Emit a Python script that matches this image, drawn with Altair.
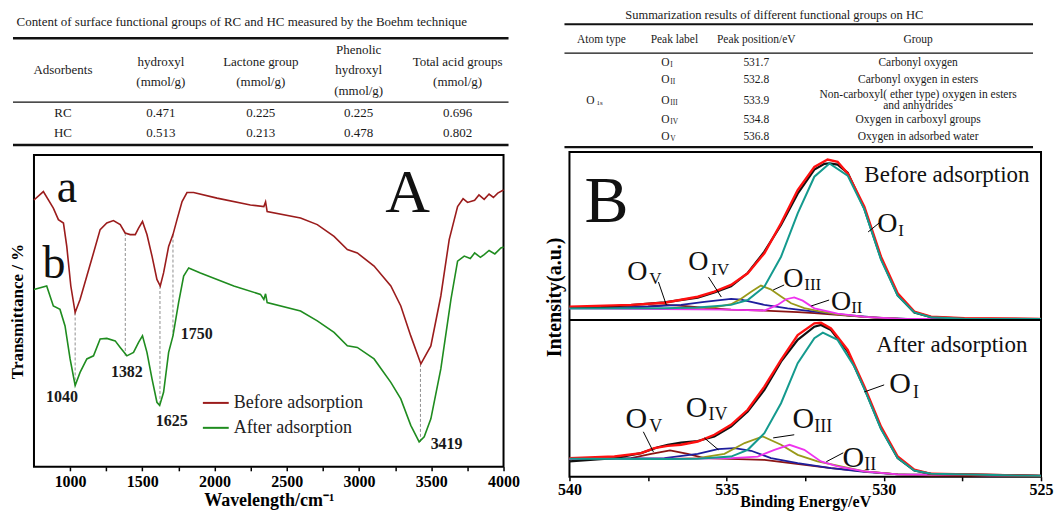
import altair as alt
import pandas as pd

SERIF = "Liberation Serif"

# ====================== DATA ======================
# --- Table 1 (Boehm titration) ---
boehm_title = "Content of surface functional groups of RC and HC measured by the Boehm technique"
boehm_headers = [["Adsorbents"], ["hydroxyl", "(mmol/g)"], ["Lactone group", "(mmol/g)"],
                 ["Phenolic", "hydroxyl", "(mmol/g)"], ["Total acid groups", "(mmol/g)"]]
boehm_samples = ["RC", "HC"]
boehm_hydroxyl = ["0.471", "0.513"]
boehm_lactone = ["0.225", "0.213"]
boehm_phenolic = ["0.225", "0.478"]
boehm_total = ["0.696", "0.802"]

# --- Table 2 (XPS O1s peak assignment) ---
xps_title = "Summarization results of different functional groups on HC"
xps_headers = ["Atom type", "Peak label", "Peak position/eV", "Group"]
xps_atom, xps_atom_sub = "O", "1s"
xps_peak_sub = ["I", "II", "III", "IV", "V"]
xps_positions = ["531.7", "532.8", "533.9", "534.8", "536.8"]
xps_groups = [["Carbonyl oxygen"], ["Carbonyl oxygen in esters"],
              ["Non-carboxyl( ether type) oxygen in esters", "and anhydrides"],
              ["Oxygen in carboxyl groups"], ["Oxygen in adsorbed water"]]

# --- FTIR spectra (panel A), wavenumber / relative transmittance ---
ftir_series = ["Before adsorption", "After adsorption"]
ftir_wn_before = [750, 815, 884, 919, 954, 977, 1005, 1035, 1069, 1116, 1162, 1208, 1254, 1300, 1347,
                  1381, 1416, 1451, 1474, 1501, 1532, 1567, 1601, 1624, 1647, 1682, 1712, 1740, 1775,
                  1809, 1855, 2017, 2248, 2341, 2353, 2364, 2595, 2711, 2827, 2919, 2988, 3104, 3220,
                  3289, 3358, 3428, 3497, 3566, 3624, 3682, 3720, 3751, 3800, 3830, 3866, 3900, 3930,
                  3960, 4000]
ftir_T_before = [85.6, 88.3, 83.0, 79.3, 78.2, 70.7, 58.0, 49.5, 53.7, 61.2, 68.6, 76.1, 78.2, 79.0, 77.7,
                 75.0, 74.5, 74.5, 76.6, 78.7, 74.5, 67.6, 60.1, 58.0, 62.2, 70.7, 74.5, 79.3, 85.1,
                 88.0, 88.0, 86.2, 84.0, 83.5, 85.0, 81.9, 79.8, 77.7, 73.9, 69.7, 68.6, 64.4, 58.0,
                 51.6, 42.0, 33.0, 38.8, 54.8, 72.9, 83.5, 86.0, 84.8, 85.5, 87.2, 85.8, 87.5, 86.4,
                 87.8, 88.8]
ftir_wn_after = [750, 838, 884, 930, 965, 1000, 1035, 1069, 1116, 1162, 1208, 1254, 1312, 1347, 1393,
                 1439, 1474, 1501, 1532, 1567, 1601, 1620, 1647, 1682, 1712, 1751, 1786, 1821, 1902,
                 2133, 2318, 2341, 2353, 2364, 2595, 2711, 2827, 2919, 2988, 3104, 3220, 3289, 3358,
                 3416, 3451, 3497, 3566, 3636, 3682, 3728, 3770, 3800, 3840, 3866, 3900, 3940, 3982, 4000]
ftir_T_after = [56.9, 58.0, 51.6, 50.5, 45.2, 34.6, 26.1, 30.3, 34.6, 35.6, 41.0, 41.2, 40.4, 38.3, 35.6,
                36.7, 39.9, 42.0, 36.7, 28.2, 20.7, 19.7, 23.9, 36.7, 42.0, 52.7, 61.2, 63.8, 62.2,
                58.0, 55.3, 53.7, 55.5, 52.7, 50.0, 46.8, 43.1, 38.8, 38.3, 34.6, 27.1, 21.8, 13.3,
                8.0, 9.6, 15.4, 31.4, 53.7, 66.0, 67.6, 66.8, 68.6, 67.2, 68.1, 69.4, 68.3, 70.2, 70.5]
ftir_peak_labels = ["1040", "1382", "1625", "1750", "3419"]
ftir_peak_wn = [1035, 1382, 1622, 1712, 3425]
ftir_peak_T_before = [49.5, 75.0, 58.0, 74.5, 33.0]
ftir_peak_T_after = [26.1, 35.6, 19.7, 42.0, 8.0]

# --- XPS O1s spectra (panel B), binding energy / intensity (a.u.) ---
xps_components = ["O_V", "O_IV", "O_III", "O_II", "measured", "fit", "O_I"]
up_measured = [(540.00, 7.8), (539.00, 8.2), (538.04, 9.4), (536.98, 11.2), (535.92, 14.2), (535.39, 17.5),
               (534.86, 21.5), (534.33, 29.9), (533.80, 43.5), (533.27, 60.5), (532.74, 80.5),
               (532.21, 95.8), (531.89, 99.5), (531.73, 99.8), (531.47, 99.0), (531.15, 93.8),
               (530.62, 71.0), (530.09, 39.2), (529.56, 15.8), (529.03, 4.8), (528.50, 1.8),
               (527.44, 0.9), (525.00, 0.5)]
up_fit = [(540.00, 8.5), (538.04, 9.6), (536.98, 11.0), (535.92, 14.8), (535.39, 18.0), (534.86, 22.3),
          (534.33, 29.7), (533.80, 42.5), (533.27, 61.6), (532.74, 82.8), (532.21, 97.6), (531.79, 102.3),
          (531.47, 100.8), (531.15, 93.4), (530.62, 72.2), (530.09, 40.3), (529.56, 17.0), (529.03, 5.3),
          (528.50, 2.1), (527.44, 1.1), (525.00, 0.6)]
up_O_I = [(540.00, 7.3), (536.98, 7.5), (535.92, 8.0), (534.86, 9.6), (534.33, 12.7), (533.80, 21.2),
          (533.27, 40.3), (532.74, 67.9), (532.21, 91.3), (531.73, 99.8), (531.15, 92.0), (530.62, 70.5),
          (530.09, 38.5), (529.56, 15.5), (529.03, 4.8), (528.50, 1.7), (527.44, 0.8), (525.00, 0.6)]
up_O_II = [(540.00, 7.4), (535.00, 6.6), (534.33, 6.3), (533.80, 6.0), (533.38, 9.6), (533.11, 13.2),
           (532.85, 14.4), (532.58, 12.3), (532.21, 7.4), (531.89, 5.9), (531.47, 4.0), (531.00, 2.9),
           (530.62, 1.9), (529.56, 0.8), (525.00, 0.4)]
up_O_III = [(536.45, 7.2), (535.39, 8.0), (534.86, 10.0), (534.54, 13.5), (534.22, 18.0), (533.91, 21.9),
            (533.60, 19.5), (533.27, 15.0), (532.95, 10.6), (532.53, 7.5), (532.00, 5.3), (531.47, 3.5),
            (530.62, 1.9), (529.56, 0.8), (525.00, 0.4)]
up_O_IV = [(540.00, 7.5), (538.57, 7.7), (537.51, 8.5), (536.45, 9.6), (535.71, 11.5), (535.07, 13.0),
           (534.86, 13.4), (534.54, 13.0), (534.22, 11.5), (533.80, 9.6), (533.06, 7.4), (532.21, 5.3),
           (531.15, 3.0), (530.09, 1.3), (529.03, 0.5), (525.00, 0.4)]
up_O_V = [(540.00, 7.6), (538.50, 7.6), (537.50, 8.6), (536.90, 9.6), (536.30, 8.8), (535.50, 7.3),
          (534.86, 6.6), (533.80, 6.0), (532.74, 5.0), (532.21, 4.3), (531.68, 3.5), (531.15, 2.7),
          (530.62, 1.9), (530.09, 1.2), (529.56, 0.8), (529.03, 0.5), (527.44, 0.4), (525.00, 0.4)]

low_measured = [(540.00, 9.8), (538.57, 11.9), (537.72, 15.1), (537.19, 18.8), (536.87, 20.4), (536.45, 21.8),
                (535.92, 22.8), (535.39, 25.7), (534.86, 32.0), (534.33, 41.6), (533.80, 55.4),
                (533.27, 73.4), (532.74, 87.3), (532.21, 95.7), (532.00, 96.8), (531.68, 93.6),
                (531.15, 79.8), (530.62, 56.5), (530.09, 31.0), (529.56, 11.9), (529.03, 4.0),
                (528.50, 1.9), (525.00, 0.6)]
low_fit = [(540.00, 11.9), (538.57, 12.9), (537.72, 15.1), (537.30, 18.3), (536.87, 19.7), (536.45, 20.4),
           (535.92, 22.5), (535.39, 26.8), (534.86, 33.1), (534.33, 42.7), (533.80, 57.5), (533.27, 74.5),
           (532.74, 90.4), (532.21, 97.8), (532.00, 98.2), (531.68, 94.6), (531.15, 80.9), (530.62, 57.5),
           (530.09, 32.0), (529.56, 12.9), (529.03, 4.5), (528.50, 1.9), (525.00, 0.6)]
low_O_I = [(540.00, 11.5), (536.98, 11.3), (535.92, 11.5), (534.86, 12.9), (534.33, 17.2), (533.80, 27.8),
           (533.27, 46.9), (532.74, 72.4), (532.21, 88.3), (531.94, 91.9), (531.47, 87.3), (530.94, 70.3),
           (530.62, 56.0), (530.09, 30.5), (529.56, 11.9), (529.03, 4.0), (528.50, 1.9), (525.00, 0.6)]
low_O_II = [(540.00, 11.3), (536.00, 11.6), (534.86, 11.9), (534.01, 12.9), (533.48, 17.2), (533.00, 20.4),
            (532.53, 17.2), (532.00, 9.8), (531.47, 6.6), (530.62, 3.4), (529.56, 1.5), (525.00, 0.6)]
low_O_III = [(537.00, 11.3), (535.92, 11.9), (535.07, 14.6), (534.43, 21.5), (533.85, 25.7), (533.27, 20.4),
             (532.74, 14.0), (532.11, 9.8), (531.36, 6.6), (530.62, 3.4), (529.56, 1.5), (525.00, 0.6)]
low_O_IV = [(540.00, 11.3), (536.98, 11.9), (535.92, 14.6), (535.28, 17.6), (534.75, 18.3), (534.22, 16.6),
            (533.59, 11.9), (532.74, 8.7), (531.68, 5.5), (530.62, 3.2), (529.56, 1.5), (525.00, 0.6)]
low_O_V = [(540.00, 11.3), (538.04, 11.9), (537.40, 14.6), (536.80, 16.8), (536.24, 14.6), (535.71, 11.9),
           (533.80, 10.8), (531.68, 5.5), (530.62, 3.4), (529.56, 1.5), (528.50, 0.8), (525.00, 0.6)]

# peak label annotations: (numeral, O x, O y, subscript x, subscript y, leader x1, y1, x2, y2)
up_labels = [("V", 537.84, 25.5, 537.46, 22.9, 537.17, 24.2, 536.92, 9.6),
             ("IV", 535.90, 31.8, 535.49, 28.7, 535.58, 27.4, 535.17, 14.6),
             ("III", 532.88, 21.0, 532.53, 19.1, 533.17, 22.3, 533.52, 19.1),
             ("II", 531.36, 6.4, 531.04, 4.5, 531.74, 12.7, 532.31, 8.9),
             ("I", 529.89, 56.1, 529.54, 53.5, 530.15, 61.8, 530.50, 56.1)]
low_labels = [("V", 537.87, 31.2, 537.46, 28.7, 537.65, 28.7, 537.33, 15.9),
              ("IV", 535.96, 38.2, 535.58, 36.3, 535.71, 24.8, 535.26, 17.2),
              ("III", 532.56, 31.2, 532.21, 28.7, 532.85, 26.8, 533.52, 24.8),
              ("II", 530.97, 6.4, 530.62, 4.5, 531.29, 15.3, 531.83, 9.6),
              ("I", 529.48, 53.5, 529.07, 50.3, 529.99, 58.6, 530.62, 54.1)]

# ====================== STYLE / LAYOUT ======================
FTIR_COLORS = ["#9b1c1c", "#1f8c1f"]
XPS_COLORS = {"O_V": "#8b1414", "O_IV": "#1e1e9c", "O_III": "#999919", "O_II": "#ee33ee",
              "measured": "#111111", "fit": "#ff1010", "O_I": "#149a8e"}
XPS_WIDTH = {"O_V": 1.8, "O_IV": 1.8, "O_III": 1.8, "O_II": 1.8, "measured": 2.2, "fit": 2.4, "O_I": 2.0}
UPPER_OFFSET = 100.0   # the upper panel sits above the lower one on a shared axis
B_Y_MAX = 207.0

WA, HA_T, HA = 470, 137, 312
WB, HB_T, HB = 472, 139, 325
A_X0, B_X0, Y0 = 33, 568, 8


def tscales(x0, y0, w, h):
    return (alt.Scale(domain=[x0, x0 + w], range=[0, w], nice=False, zero=False),
            alt.Scale(domain=[y0, y0 + h], range=[0, h], nice=False, zero=False))


def text_layer(rows, xs, ys, align="center", baseline="middle", weight="normal", color="#1a1a1a"):
    df = pd.DataFrame(rows, columns=["x", "y", "t", "fs"])
    return alt.Chart(df).mark_text(font=SERIF, align=align, baseline=baseline,
                                   fontWeight=weight, color=color).encode(
        x=alt.X("x:Q", scale=xs, axis=None), y=alt.Y("y:Q", scale=ys, axis=None),
        text="t:N", size=alt.Size("fs:Q", scale=None, legend=None))


def rule_layer(rows, xs, ys, color="#111111"):
    df = pd.DataFrame(rows, columns=["x", "x2", "y", "w"])
    return alt.Chart(df).mark_rule(color=color).encode(
        x=alt.X("x:Q", scale=xs, axis=None), x2="x2:Q", y=alt.Y("y:Q", scale=ys, axis=None),
        strokeWidth=alt.StrokeWidth("w:Q", scale=None, legend=None))


# ---------- Table A ----------
xsA, ysA = tscales(A_X0, Y0, WA, HA_T)
colA = [62, 160, 260, 358, 457]
head_y = {1: [70], 2: [62, 82], 3: [50, 70, 91]}
cellsA = [(241, 22, boehm_title, 13)]
for cx, lines in zip(colA, boehm_headers):
    for yy, t in zip(head_y[len(lines)], lines):
        cellsA.append((cx, yy, t, 13))
for ry, vals in zip([113, 133], zip(boehm_samples, boehm_hydroxyl, boehm_lactone, boehm_phenolic, boehm_total)):
    for cx, t in zip(colA, vals):
        cellsA.append((cx, ry, t, 13))
tableA = alt.layer(
    rule_layer([(12, 508, 38, 2.5), (12, 508, 102, 1.3), (12, 508, 145, 2.5)], xsA, ysA),
    text_layer(cellsA, xsA, ysA),
).properties(width=WA, height=HA_T, view=alt.ViewBackground(stroke=None))

# ---------- Table B ----------
xsB, ysB = tscales(B_X0, Y0, WB, HB_T)
colB = [600, 673, 755, 917]
rowB = [63, 80, 101, 120, 137]
cellsB = [(773, 15, xps_title, 12.5)]
for cx, t in zip(colB, xps_headers):
    cellsB.append((cx, 40, t, 11.5))
cellsB.append((589, 101, xps_atom, 11.5))
subsB = [(595, 103, xps_atom_sub, 7)]
for ry, sub, pos, grp in zip(rowB, xps_peak_sub, xps_positions, xps_groups):
    cellsB.append((664, ry, "O", 11.5))
    subsB.append((669, ry + 2, sub, 7.5))
    cellsB.append((755, ry, pos, 11.5))
    if len(grp) == 1:
        cellsB.append((917, ry, grp[0], 11.5))
    else:
        cellsB.append((917, ry - 6, grp[0], 11.5))
        cellsB.append((917, ry + 5, grp[1], 11.5))
tableB = alt.layer(
    rule_layer([(563, 1032, 24, 2.2), (563, 1032, 53, 1.2), (563, 1032, 147, 2.2)], xsB, ysB),
    text_layer(cellsB, xsB, ysB),
    text_layer(subsB, xsB, ysB, align="left"),
).properties(width=WB, height=HB_T, view=alt.ViewBackground(stroke=None))

# ---------- Panel A : FTIR ----------
axAx = alt.Axis(values=[1000 + 250 * i for i in range(13)], format="d",
                labelExpr="datum.value % 500 == 0 ? datum.label : ''",
                title="Wavelength/cm\u207b\u00b9", titleFont=SERIF, titleFontSize=18, titleFontWeight="bold",
                titleColor="black", titlePadding=2,
                labelFont=SERIF, labelFontSize=16, labelFontWeight="bold", labelColor="black",
                labelPadding=3, labelFlush=False, labelOverlap=False,
                tickColor="black", tickSize=4, tickWidth=1.5, domain=False, grid=False)
axAy = alt.Axis(labels=False, ticks=False, domain=False, grid=False, title="Transmittance / %",
                titleFont=SERIF, titleFontSize=17, titleFontWeight="bold", titleColor="black",
                titlePadding=7)
sxA = alt.Scale(domain=[750, 4000], nice=False, zero=False)
syA = alt.Scale(domain=[0, 100], nice=False, zero=False)
colorA = alt.Scale(domain=ftir_series, range=FTIR_COLORS)


def XA(f="x"):
    return alt.X(f + ":Q", scale=sxA, axis=axAx)


def YA(f="y"):
    return alt.Y(f + ":Q", scale=syA, axis=axAy)


ftir_df = pd.concat([
    pd.DataFrame({"x": ftir_wn_before, "y": ftir_T_before, "s": ftir_series[0]}),
    pd.DataFrame({"x": ftir_wn_after, "y": ftir_T_after, "s": ftir_series[1]}),
])
peak_df = pd.DataFrame({"x": ftir_peak_wn, "y": ftir_peak_T_before, "y2": ftir_peak_T_after})
peak_lbl_df = pd.DataFrame({"x": [944, 1393, 1704, 1877, 3606], "y": [22.4, 30.4, 14.7, 42.6, 7.4],
                            "t": ftir_peak_labels})
letters_df = pd.DataFrame({"x": [978, 888], "y": [84.9, 60.6], "t": ["a", "b"]})
bigA_df = pd.DataFrame({"x": [3336], "y": [81.7], "t": ["A"]})
leg_df = pd.DataFrame({"x": [1919, 1919], "x2": [2098, 2098], "y": [20.5, 12.5], "s": ftir_series,
                       "tx": [2133, 2133]})

panelA = alt.layer(
    alt.Chart(peak_df).mark_rule(color="#8f8f8f", strokeWidth=1, strokeDash=[3, 2]).encode(
        x=XA(), y=YA(), y2="y2:Q"),
    alt.Chart(ftir_df).mark_line(strokeWidth=1.6).encode(
        x=XA(), y=YA(), color=alt.Color("s:N", scale=colorA, legend=None), detail="s:N"),
    alt.Chart(peak_lbl_df).mark_text(font=SERIF, fontSize=16, fontWeight="bold", color="#1a1a1a").encode(
        x=XA(), y=YA(), text="t:N"),
    alt.Chart(letters_df).mark_text(font=SERIF, fontSize=46, baseline="alphabetic", color="#111").encode(
        x=XA(), y=YA(), text="t:N"),
    alt.Chart(bigA_df).mark_text(font=SERIF, fontSize=62, baseline="alphabetic", color="#111").encode(
        x=XA(), y=YA(), text="t:N"),
    alt.Chart(leg_df).mark_rule(strokeWidth=2).encode(
        x=XA(), x2="x2:Q", y=YA(), color=alt.Color("s:N", scale=colorA, legend=None)),
    alt.Chart(leg_df).mark_text(font=SERIF, fontSize=18, align="left", color="#222").encode(
        x=XA("tx"), y=YA(), text="s:N"),
).properties(width=WA, height=HA, view=alt.ViewBackground(stroke="black", strokeWidth=2))

# ---------- Panel B : XPS ----------
axBx = alt.Axis(values=[540, 537.5, 535, 532.5, 530, 527.5, 525], format="d",
                labelExpr="datum.value % 5 == 0 ? datum.label : ''",
                title="Binding Energy/eV", titleFont=SERIF, titleFontSize=16, titleFontWeight="bold",
                titleColor="black", titlePadding=-4,
                labelFont=SERIF, labelFontSize=16, labelFontWeight="bold", labelColor="black",
                labelPadding=1, labelFlush=False, labelOverlap=False,
                tickColor="black", tickSize=4, tickWidth=1.5, domain=False, grid=False)
axBy = alt.Axis(labels=False, ticks=False, domain=False, grid=False, title="Intensity(a.u.)",
                titleFont=SERIF, titleFontSize=20, titleFontWeight="bold", titleColor="black",
                titlePadding=5, titleY=145)
sxB = alt.Scale(domain=[540, 525], nice=False, zero=False)
syB = alt.Scale(domain=[0, B_Y_MAX], nice=False, zero=False)


def XB(f="x"):
    return alt.X(f + ":Q", scale=sxB, axis=axBx)


def YB(f="y"):
    return alt.Y(f + ":Q", scale=syB, axis=axBy)


up_series = {"O_V": up_O_V, "O_IV": up_O_IV, "O_III": up_O_III, "O_II": up_O_II,
             "measured": up_measured, "fit": up_fit, "O_I": up_O_I}
low_series = {"O_V": low_O_V, "O_IV": low_O_IV, "O_III": low_O_III, "O_II": low_O_II,
              "measured": low_measured, "fit": low_fit, "O_I": low_O_I}

layersB = []
for comp in xps_components:
    df = pd.concat([
        pd.DataFrame({"x": [p[0] for p in low_series[comp]], "y": [p[1] for p in low_series[comp]],
                      "panel": "after"}),
        pd.DataFrame({"x": [p[0] for p in up_series[comp]],
                      "y": [p[1] + UPPER_OFFSET for p in up_series[comp]], "panel": "before"}),
    ])
    layersB.append(alt.Chart(df).mark_line(color=XPS_COLORS[comp], strokeWidth=XPS_WIDTH[comp]).encode(
        x=XB(), y=YB(), detail="panel:N"))

# panel divider
divider_df = pd.DataFrame({"x": [540], "x2": [525], "y": [UPPER_OFFSET]})
layersB.append(alt.Chart(divider_df).mark_rule(color="black", strokeWidth=2).encode(
    x=XB(), x2="x2:Q", y=YB()))

o_rows, s_rows, l_rows = [], [], []
for labels, off, fo, fsub in [(up_labels, UPPER_OFFSET, 28, 17), (low_labels, 0.0, 30, 18)]:
    for num, ox, oy, sx, sy, lx1, ly1, lx2, ly2 in labels:
        o_rows.append({"x": ox, "y": oy + off, "t": "O", "fs": fo})
        s_rows.append({"x": sx, "y": sy + off, "t": num, "fs": fsub})
        l_rows.append({"x": lx1, "y": ly1 + off, "x2": lx2, "y2": ly2 + off})

layersB.append(alt.Chart(pd.DataFrame(l_rows)).mark_rule(color="black", strokeWidth=1).encode(
    x=XB(), x2="x2:Q", y=YB(), y2="y2:Q"))
layersB.append(alt.Chart(pd.DataFrame(o_rows)).mark_text(font=SERIF, baseline="alphabetic", color="#111").encode(
    x=XB(), y=YB(), text="t:N", size=alt.Size("fs:Q", scale=None, legend=None)))
layersB.append(alt.Chart(pd.DataFrame(s_rows)).mark_text(font=SERIF, baseline="alphabetic", align="left",
                                                        color="#111").encode(
    x=XB(), y=YB(), text="t:N", size=alt.Size("fs:Q", scale=None, legend=None)))

b_text_df = pd.DataFrame({"x": [530.62, 530.24], "y": [87.9 + UPPER_OFFSET, 79.6],
                          "t": ["Before adsorption", "After adsorption"]})
layersB.append(alt.Chart(b_text_df).mark_text(font=SERIF, fontSize=23, align="left", baseline="alphabetic",
                                              color="#111").encode(x=XB(), y=YB(), text="t:N"))
bigB_df = pd.DataFrame({"x": [538.82], "y": [62.4 + UPPER_OFFSET], "t": ["B"]})
layersB.append(alt.Chart(bigB_df).mark_text(font=SERIF, fontSize=66, baseline="alphabetic",
                                           color="#111").encode(x=XB(), y=YB(), text="t:N"))

panelB = alt.layer(*layersB).properties(width=WB, height=HB,
                                        view=alt.ViewBackground(stroke="black", strokeWidth=2))

# ====================== COMPOSE ======================
left = alt.vconcat(tableA, panelA, spacing=10, bounds="flush")
right = alt.vconcat(tableB, panelB, spacing=5, bounds="flush")
chart = alt.hconcat(left, right, spacing=23, padding=0, background="white")

chart.save("out.html", embed_options={"renderer": "svg", "actions": False})
